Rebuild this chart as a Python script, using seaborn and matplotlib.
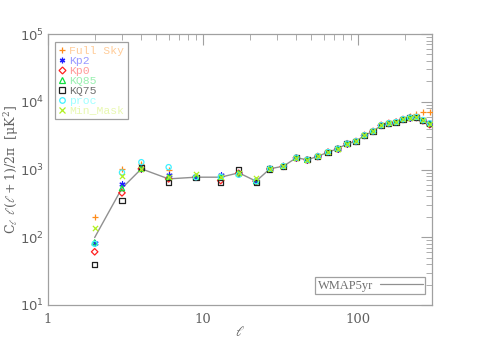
import matplotlib
matplotlib.use("Agg")
import matplotlib.pyplot as plt
import seaborn as sns
import pandas as pd
from matplotlib.lines import Line2D
from matplotlib.ticker import LogLocator, LogFormatterMathtext, NullFormatter, FixedLocator, FixedFormatter

# ---------------- data ----------------
ell = [2, 3, 4, 6, 9, 13, 17, 22, 27, 33, 40, 47, 55, 64, 74, 85, 97, 110, 125,
       141, 158, 176, 195, 216, 238, 262, 290]

wmap5yr = [99, 530, 1023, 727, 770, 770, 893, 672, 1024, 1119, 1490, 1392, 1561,
           1804, 2026, 2405, 2600, 3191, 3656, 4488, 4801, 5000, 5500, 5800, 5900,
           5300, 4750]

full_sky = [201, 1010, 1213, 967, 780, 790, 900, 680, 1030, 1125, 1500, 1400, 1570,
            1815, 2040, 2420, 2620, 3210, 3680, 4520, 4850, 5080, 5650, 6100, 6700,
            7000, 7000]
kp2 = [81, 614, 1023, 843, 770, 835, 880, 672, 1024, 1119, 1490, 1392, 1561,
       1804, 2026, 2405, 2600, 3191, 3656, 4488, 4801, 5000, 5500, 5800, 5900,
       5300, 4750]
kp0 = [61, 452, 1023, 727, 770, 687, 880, 672, 1020, 1115, 1485, 1390, 1555,
       1800, 2020, 2400, 2595, 3185, 3650, 4480, 4790, 4990, 5480, 5780, 5850,
       5250, 4600]
kq85 = [84, 530, 1023, 769, 770, 770, 880, 672, 1024, 1119, 1490, 1392, 1561,
        1804, 2026, 2405, 2600, 3191, 3656, 4488, 4801, 5000, 5500, 5800, 5900,
        5300, 4750]
kq75 = [40, 344, 1083, 649, 770, 635, 1000, 641, 1020, 1110, 1490, 1390, 1560,
        1800, 2020, 2400, 2600, 3190, 3650, 4480, 4800, 5000, 5500, 5800, 5900,
        5300, 4750]
proc = [80, 903, 1283, 1083, 770, 780, 835, 672, 1030, 1125, 1495, 1395, 1565,
        1810, 2030, 2410, 2605, 3195, 3660, 4495, 4810, 5010, 5520, 5820, 5950,
        5350, 4800]
min_mask = [135, 807, 1023, 769, 860, 770, 893, 753, 1024, 1119, 1490, 1392, 1561,
            1804, 2026, 2405, 2600, 3191, 3656, 4488, 4801, 5000, 5500, 5800, 5900,
            5300, 4750]

series_names = ["Full Sky", "Kp2", "Kp0", "KQ85", "KQ75", "proc", "Min_Mask"]
series_values = [full_sky, kp2, kp0, kq85, kq75, proc, min_mask]
marker_colors = ["#FF8C1A", "#2020FF", "#FF2020", "#10E040", "#202020", "#40F0FF", "#B0F020"]
text_colors = ["#FFCC99", "#9999FF", "#FF9999", "#99F0B0", "#707070", "#A0FFFF", "#E8F8B0"]
markers = ["+", (6, 2, 0), "D", "^", "s", "o", "x"]

xticks = [1, 10, 100]
xticklabels = ["1", "10", "100"]

# ---------------- figure ----------------
sns.set_style("white")
plt.rcParams["font.family"] = ["DejaVu Serif", "DejaVu Sans"]
plt.rcParams["mathtext.fontset"] = "dejavuserif"
plt.rcParams["mathtext.default"] = "regular"

fig = plt.figure(figsize=(4.79, 3.39), dpi=100)
ax = fig.add_axes([48 / 479, 1 - 305 / 339, 384 / 479, 271 / 339])

wdf = pd.DataFrame({"ell": ell, "cl": wmap5yr})
sns.lineplot(data=wdf, x="ell", y="cl", ax=ax, color="#909090", lw=1.0,
             legend=False, zorder=2)

handles = []
for name, vals, mc, mk in zip(series_names, series_values, marker_colors, markers):
    df = pd.DataFrame({"ell": ell, "cl": vals})
    if mk in ("+", "x") or isinstance(mk, tuple):
        sns.scatterplot(data=df, x="ell", y="cl", ax=ax, marker=mk, color=mc,
                        s=14, linewidth=0.9, legend=False, zorder=3)
        h = Line2D([], [], ls="none", marker=mk, color=mc, markersize=4,
                   markeredgewidth=0.9)
    else:
        sns.scatterplot(data=df, x="ell", y="cl", ax=ax, marker=mk,
                        facecolor="none", edgecolor=mc, s=11 if mk == "D" else 14,
                        linewidth=0.9, legend=False, zorder=3)
        h = Line2D([], [], ls="none", marker=mk, markerfacecolor="none",
                   markeredgecolor=mc, markersize=3.5 if mk == "D" else 4,
                   markeredgewidth=0.9)
    handles.append(h)

ax.set_xscale("log")
ax.set_yscale("log")
ax.set_xlim(1, 300)
ax.set_ylim(10, 1e5)

grey = "#A0A0A0"
for sp in ax.spines.values():
    sp.set_color(grey)
    sp.set_linewidth(0.9)

ax.xaxis.set_major_locator(FixedLocator(xticks))
ax.xaxis.set_major_formatter(FixedFormatter(xticklabels))
ax.xaxis.set_minor_locator(LogLocator(base=10, subs=range(2, 10)))
ax.xaxis.set_minor_formatter(NullFormatter())
ax.yaxis.set_major_locator(LogLocator(base=10, numticks=10))
ax.yaxis.set_major_formatter(LogFormatterMathtext())
ax.yaxis.set_minor_locator(LogLocator(base=10, subs=range(2, 10), numticks=20))
ax.yaxis.set_minor_formatter(NullFormatter())

ax.tick_params(which="both", direction="in", top=True, right=True, color=grey,
               labelcolor="#606060")
ax.tick_params(which="major", length=8, width=0.8)
ax.tick_params(which="minor", length=4, width=0.6)
ax.tick_params(axis="x", pad=6)
ax.tick_params(axis="y", pad=3)
for t in ax.get_xticklabels():
    t.set_fontsize(9.5)
    t.set_family(["DejaVu Serif"])
for t in ax.get_yticklabels():
    t.set_fontsize(9.5)
    t.set_family(["DejaVu Sans"])

ax.set_xlabel(r"$\ell$", fontsize=10, color="#606060")
ax.xaxis.set_label_coords(0.5, -0.075)
ax.set_ylabel(r"C$_\ell\ \ell(\ell+1)/2\pi$  [$\mu$K$^2$]", fontsize=9,
              color="#606060")
ax.yaxis.set_label_coords(-0.07, 0.5)

leg = ax.legend(handles, series_names, loc="upper left",
                bbox_to_anchor=(0.018, 0.97), frameon=True, fancybox=False,
                edgecolor=grey, framealpha=1, labelspacing=0.0,
                handlelength=0.7, handleheight=0.5, handletextpad=0.25,
                borderpad=0.3, borderaxespad=0,
                prop={"family": "Liberation Mono", "size": 8.2})
for txt, c in zip(leg.get_texts(), text_colors):
    txt.set_color(c)
leg.get_frame().set_linewidth(0.9)
ax.add_artist(leg)

wl = Line2D([], [], color="#909090", lw=0.9)
leg2 = ax.legend([wl], ["WMAP5yr"], loc="lower right",
                 bbox_to_anchor=(0.983, 0.04), frameon=True, fancybox=False,
                 edgecolor=grey, framealpha=1, markerfirst=False,
                 handlelength=3.4, handletextpad=0.6, borderpad=0.2,
                 borderaxespad=0, prop={"family": "Liberation Serif", "size": 9})
leg2.get_texts()[0].set_color("#707070")
leg2.get_frame().set_linewidth(0.9)

fig.savefig("out.png", dpi=100)
